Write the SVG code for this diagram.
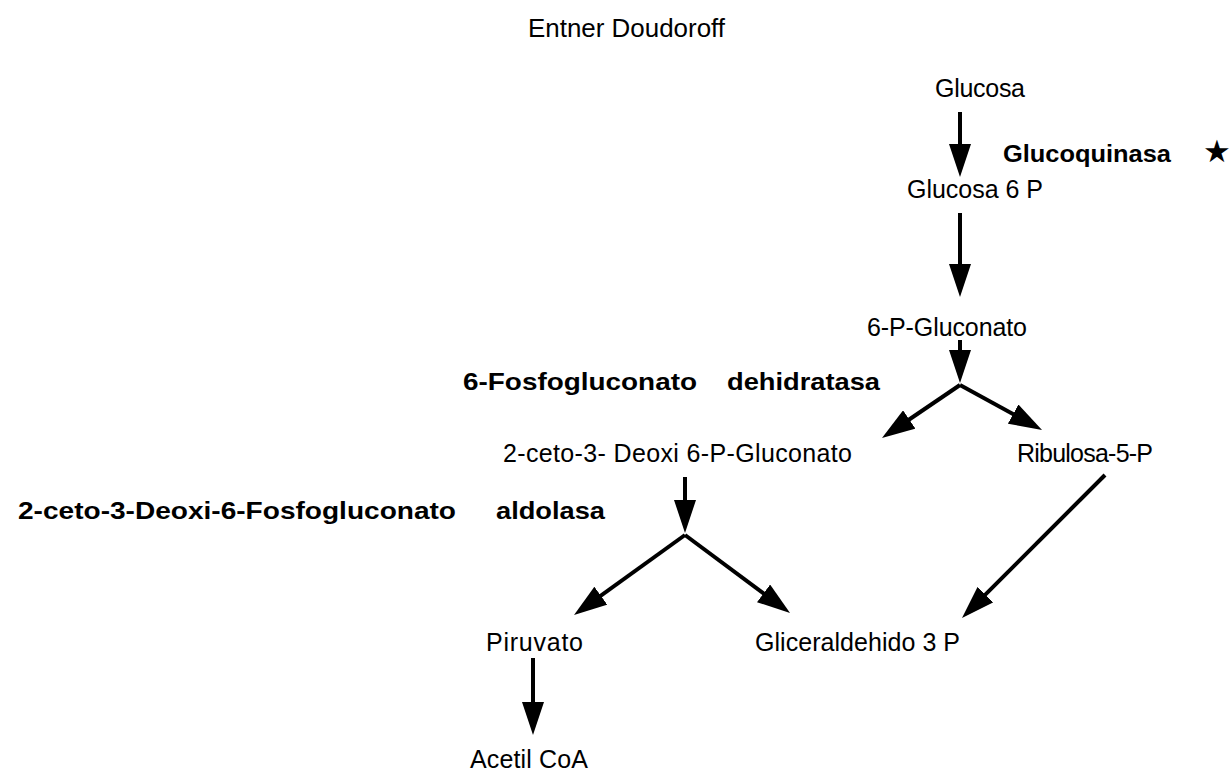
<svg xmlns="http://www.w3.org/2000/svg" width="1229" height="776" viewBox="0 0 1229 776">
  <style>
    .node { font-family: "Liberation Sans", Arial, sans-serif; font-size: 25px; fill: #000; }
    .enzyme { font-family: "Liberation Sans", Arial, sans-serif; font-size: 24px; font-weight: bold; fill: #000; }
    .title { font-family: "Liberation Sans", Arial, sans-serif; font-size: 25px; fill: #000; }
    .mark { font-family: "DejaVu Sans", sans-serif; font-size: 31px; fill: #000; }
    .edge { stroke: #000; stroke-width: 4; fill: none; marker-end: url(#head); }
  </style>
  <defs>
    <marker id="head" viewBox="0 0 33 22" refX="17" refY="11" markerWidth="33" markerHeight="22" markerUnits="userSpaceOnUse" orient="auto">
      <path d="M0,0 L33,11 L0,22 Z" fill="#000"/>
    </marker>
  </defs>
  <rect width="1229" height="776" fill="#fff"/>

  <g id="title">
    <text class="title" x="528" y="37" textLength="197" lengthAdjust="spacingAndGlyphs">Entner Doudoroff</text>
  </g>

  <!-- metabolites -->
  <g id="glucosa"><text class="node" x="935" y="97" textLength="90">Glucosa</text></g>
  <g id="glucosa-6p"><text class="node" x="907" y="198" textLength="136">Glucosa 6 P</text></g>
  <g id="p-gluconato"><text class="node" x="867" y="336" textLength="160">6-P-Gluconato</text></g>
  <g id="ceto-deoxi-gluconato"><text class="node" x="503" y="462" textLength="349">2-ceto-3- Deoxi 6-P-Gluconato</text></g>
  <g id="ribulosa-5p"><text class="node" x="1017" y="462" textLength="136">Ribulosa-5-P</text></g>
  <g id="piruvato"><text class="node" x="486" y="651" textLength="97">Piruvato</text></g>
  <g id="gliceraldehido-3p"><text class="node" x="755" y="651" textLength="205">Gliceraldehido 3 P</text></g>
  <g id="acetil-coa"><text class="node" x="470" y="768" textLength="118">Acetil CoA</text></g>

  <!-- enzymes -->
  <g id="glucoquinasa">
    <text class="enzyme" x="1003" y="162" textLength="168" lengthAdjust="spacingAndGlyphs">Glucoquinasa</text>
    <text class="mark" x="1203" y="162">★</text>
  </g>
  <g id="fosfogluconato-dehidratasa">
    <text class="enzyme" y="390"><tspan x="463" textLength="234" lengthAdjust="spacingAndGlyphs">6-Fosfogluconato</tspan><tspan x="727" textLength="153" lengthAdjust="spacingAndGlyphs">dehidratasa</tspan></text>
  </g>
  <g id="kdpg-aldolasa">
    <text class="enzyme" y="519"><tspan x="18" textLength="438" lengthAdjust="spacingAndGlyphs">2-ceto-3-Deoxi-6-Fosfogluconato</tspan><tspan x="496" textLength="109" lengthAdjust="spacingAndGlyphs">aldolasa</tspan></text>
  </g>

  <!-- reaction arrows -->
  <g id="connectors">
    <line class="edge" x1="960" y1="112" x2="960" y2="161"/>
    <line class="edge" x1="960" y1="213" x2="960" y2="281"/>
    <line class="edge" x1="960" y1="340" x2="960" y2="367"/>
    <line class="edge" x1="960" y1="385" x2="895.2" y2="429"/>
    <line class="edge" x1="960" y1="385" x2="1028" y2="422.3"/>
    <line class="edge" x1="685" y1="477" x2="685" y2="517"/>
    <line class="edge" x1="685" y1="535" x2="587" y2="605.6"/>
    <line class="edge" x1="685" y1="535" x2="777.2" y2="603.5"/>
    <line class="edge" x1="1105" y1="475" x2="973.3" y2="606.7"/>
    <line class="edge" x1="533" y1="658" x2="533" y2="719"/>
  </g>
</svg>
